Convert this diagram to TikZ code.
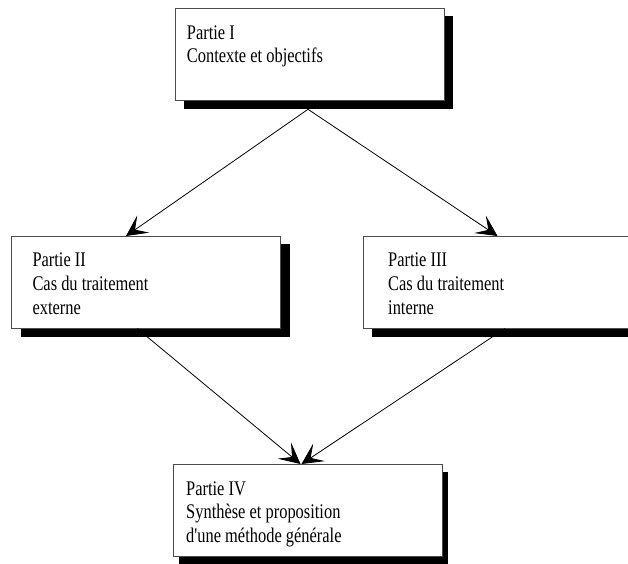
\documentclass[tikz,border=0pt]{standalone}
\usepackage{fontspec}
\setmainfont{Liberation Serif}[FakeStretch=0.79, Ligatures=TeXOff]
\usetikzlibrary{arrows.meta,shadows}
\begin{document}
\begin{tikzpicture}[x=1pt,y=-1pt,
  box/.style={draw=black!70, line width=0.9pt, fill=white,
    minimum width=269pt, minimum height=92.5pt, inner sep=0pt, outer sep=0pt,
    anchor=north west},
  shade/.style={drop shadow={shadow xshift=#1, shadow yshift=-8pt, fill=black, opacity=1}},
  txt/.style={anchor=base west, inner sep=0pt, font=\fontsize{20.8}{23.9}\selectfont},
  arr/.style={line width=0.8pt, -{Stealth[length=21pt,width=21pt,inset=10pt]}}]
\useasboundingbox (0,0) rectangle (628,563);
\clip (0,0) rectangle (628,563);
\fill[white] (0,0) rectangle (628,563);

\node[box, shade=9pt] (b1) at (175,8.3) {};
\node[box, shade=9pt] (b2) at (11.7,236) {};
\node[box, shade=9pt] (b3) at (363,236) {};
\node[box, shade=6pt, minimum height=92pt] (b4) at (173.3,464) {};

\node[txt] (t1) at ([shift={(11.7pt,-30.7pt)}]b1.north west)
  {\begin{tabular}[t]{@{}l@{}}Partie I\\Contexte et objectifs\end{tabular}};
\node[txt] (t2) at ([shift={(20.6pt,-30.5pt)}]b2.north west)
  {\begin{tabular}[t]{@{}l@{}}Partie II\\Cas du traitement\\externe\end{tabular}};
\node[txt] (t3) at ([shift={(25pt,-30.5pt)}]b3.north west)
  {\begin{tabular}[t]{@{}l@{}}Partie III\\Cas du traitement\\interne\end{tabular}};
\node[txt] (t4) at ([shift={(12.7pt,-31pt)}]b4.north west)
  {\begin{tabular}[t]{@{}l@{}}Partie IV\\Synthèse et proposition\\d'une méthode générale\end{tabular}};

\draw[arr] ([xshift=-1.5pt,yshift=-8.5pt]b1.south) -- ([xshift=-20.2pt]b2.north);
\draw[arr] ([xshift=-1.5pt,yshift=-8.5pt]b1.south) -- (b3.north);
\draw[arr] ([xshift=-9pt]b2.south) -- ([xshift=-7.3pt]b4.north);
\draw[arr] ([xshift=7.5pt]b3.south) -- ([xshift=-6.3pt]b4.north);
\end{tikzpicture}
\end{document}
